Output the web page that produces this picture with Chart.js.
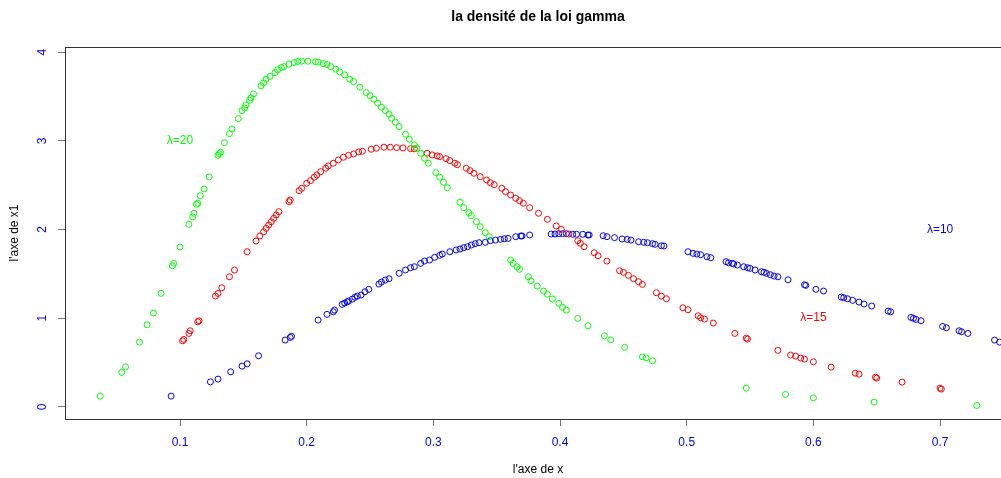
<!DOCTYPE html>
<html>
<head>
<meta charset="utf-8">
<script src="https://cdn.jsdelivr.net/npm/chart.js@4/dist/chart.umd.min.js"></script>
<style>
html, body { margin: 0; padding: 0; background: #ffffff; overflow: hidden; }
#wrap { position: relative; width: 1030px; height: 478px; }
</style>
</head>
<body>
<div id="wrap"><canvas id="chart"></canvas></div>
<script>
// la densité de la loi gamma
const greenX = [0.037, 0.054, 0.057, 0.068, 0.074, 0.079, 0.085, 0.094, 0.095, 0.100, 0.107, 0.110, 0.111, 0.113, 0.114,
    0.116, 0.119, 0.123, 0.130, 0.131, 0.132, 0.135, 0.139, 0.141, 0.146, 0.149, 0.151, 0.152, 0.155, 0.156, 0.158,
    0.164, 0.166, 0.168, 0.171, 0.175, 0.177, 0.180, 0.182, 0.186, 0.190, 0.193, 0.196, 0.201, 0.207, 0.209, 0.213,
    0.216, 0.219, 0.223, 0.226, 0.230, 0.234, 0.237, 0.242, 0.247, 0.250, 0.253, 0.256, 0.259, 0.262, 0.265, 0.267,
    0.270, 0.273, 0.278, 0.281, 0.285, 0.287, 0.290, 0.293, 0.296, 0.302, 0.305, 0.308, 0.311, 0.321, 0.324, 0.328,
    0.330, 0.334, 0.337, 0.341, 0.344, 0.361, 0.363, 0.366, 0.368, 0.375, 0.377, 0.382, 0.387, 0.390, 0.394, 0.399,
    0.402, 0.405, 0.414, 0.422, 0.435, 0.440, 0.451, 0.465, 0.468, 0.473, 0.547, 0.578, 0.600, 0.648, 0.729];
const greenY = [0.121, 0.388, 0.451, 0.730, 0.926, 1.058, 1.280, 1.591, 1.618, 1.802, 2.058, 2.144, 2.183, 2.284, 2.295,
    2.381, 2.457, 2.593, 2.837, 2.855, 2.871, 2.980, 3.081, 3.134, 3.251, 3.341, 3.371, 3.405, 3.458, 3.484, 3.529,
    3.620, 3.654, 3.695, 3.725, 3.770, 3.800, 3.826, 3.837, 3.865, 3.883, 3.894, 3.898, 3.898, 3.891, 3.887, 3.871,
    3.860, 3.837, 3.808, 3.778, 3.744, 3.695, 3.668, 3.605, 3.544, 3.510, 3.469, 3.424, 3.379, 3.341, 3.300, 3.255,
    3.210, 3.160, 3.074, 3.018, 2.954, 2.916, 2.860, 2.804, 2.747, 2.641, 2.589, 2.533, 2.472, 2.307, 2.246, 2.190,
    2.156, 2.088, 2.032, 1.964, 1.919, 1.656, 1.618, 1.580, 1.551, 1.467, 1.422, 1.362, 1.306, 1.269, 1.216, 1.167,
    1.122, 1.091, 0.997, 0.914, 0.801, 0.756, 0.670, 0.564, 0.553, 0.519, 0.211, 0.140, 0.102, 0.053, 0.016];

const redX = [0.102, 0.103, 0.107, 0.108, 0.114, 0.115, 0.128, 0.130, 0.133, 0.139, 0.143, 0.153, 0.160, 0.163, 0.166,
    0.168, 0.170, 0.172, 0.174, 0.176, 0.178, 0.186, 0.187, 0.194, 0.196, 0.200, 0.203, 0.206, 0.208, 0.211, 0.215,
    0.217, 0.221, 0.225, 0.229, 0.233, 0.237, 0.241, 0.244, 0.251, 0.255, 0.261, 0.266, 0.271, 0.276, 0.282, 0.285,
    0.295, 0.299, 0.303, 0.305, 0.310, 0.313, 0.317, 0.319, 0.326, 0.329, 0.332, 0.337, 0.342, 0.345, 0.348, 0.354,
    0.357, 0.361, 0.365, 0.368, 0.371, 0.376, 0.383, 0.390, 0.397, 0.401, 0.407, 0.414, 0.416, 0.419, 0.427, 0.430,
    0.437, 0.447, 0.450, 0.454, 0.458, 0.462, 0.465, 0.476, 0.480, 0.484, 0.497, 0.501, 0.509, 0.511, 0.514, 0.521,
    0.538, 0.547, 0.548, 0.572, 0.582, 0.586, 0.590, 0.593, 0.600, 0.614, 0.633, 0.636, 0.649, 0.650, 0.670, 0.700,
    0.701];
const redY = [0.745, 0.760, 0.828, 0.858, 0.959, 0.970, 1.249, 1.279, 1.343, 1.467, 1.543, 1.749, 1.870, 1.927, 1.975,
    2.013, 2.051, 2.088, 2.126, 2.164, 2.201, 2.314, 2.333, 2.438, 2.465, 2.521, 2.551, 2.589, 2.615, 2.652, 2.691,
    2.717, 2.747, 2.784, 2.815, 2.837, 2.852, 2.875, 2.882, 2.905, 2.916, 2.928, 2.928, 2.923, 2.920, 2.912, 2.909,
    2.860, 2.841, 2.830, 2.822, 2.799, 2.777, 2.747, 2.731, 2.690, 2.664, 2.634, 2.596, 2.559, 2.528, 2.506, 2.465,
    2.427, 2.389, 2.352, 2.325, 2.296, 2.246, 2.183, 2.115, 2.040, 2.002, 1.949, 1.874, 1.844, 1.806, 1.738, 1.704,
    1.644, 1.535, 1.517, 1.483, 1.445, 1.411, 1.381, 1.287, 1.249, 1.219, 1.117, 1.095, 1.027, 1.005, 0.990, 0.945,
    0.828, 0.775, 0.764, 0.637, 0.584, 0.572, 0.550, 0.538, 0.508, 0.448, 0.380, 0.369, 0.335, 0.324, 0.279, 0.211,
    0.200];

const blueX = [0.093, 0.124, 0.130, 0.140, 0.149, 0.153, 0.162, 0.183, 0.187, 0.188, 0.209, 0.216, 0.221, 0.222, 0.228,
    0.230, 0.232, 0.233, 0.236, 0.238, 0.240, 0.243, 0.246, 0.249, 0.257, 0.259, 0.262, 0.265, 0.273, 0.278, 0.282,
    0.285, 0.290, 0.293, 0.297, 0.301, 0.305, 0.307, 0.313, 0.318, 0.321, 0.324, 0.327, 0.330, 0.333, 0.336, 0.341,
    0.345, 0.349, 0.353, 0.356, 0.359, 0.365, 0.369, 0.370, 0.376, 0.393, 0.396, 0.399, 0.402, 0.405, 0.410, 0.413,
    0.418, 0.422, 0.423, 0.434, 0.437, 0.443, 0.449, 0.453, 0.456, 0.462, 0.466, 0.469, 0.473, 0.475, 0.480, 0.482,
    0.501, 0.505, 0.508, 0.511, 0.516, 0.519, 0.531, 0.533, 0.536, 0.537, 0.540, 0.545, 0.548, 0.550, 0.554, 0.559,
    0.561, 0.563, 0.566, 0.569, 0.572, 0.580, 0.593, 0.594, 0.602, 0.608, 0.622, 0.624, 0.627, 0.631, 0.636, 0.640,
    0.646, 0.659, 0.661, 0.677, 0.679, 0.681, 0.685, 0.702, 0.705, 0.715, 0.717, 0.722, 0.743, 0.747];
const blueY = [0.121, 0.282, 0.313, 0.395, 0.459, 0.485, 0.576, 0.753, 0.783, 0.795, 0.979, 1.043, 1.072, 1.091, 1.156,
    1.170, 1.185, 1.193, 1.214, 1.235, 1.249, 1.261, 1.298, 1.325, 1.385, 1.407, 1.430, 1.445, 1.506, 1.543, 1.569,
    1.580, 1.618, 1.644, 1.656, 1.686, 1.709, 1.723, 1.749, 1.769, 1.780, 1.795, 1.806, 1.825, 1.840, 1.851, 1.855,
    1.874, 1.881, 1.889, 1.896, 1.900, 1.919, 1.927, 1.927, 1.938, 1.949, 1.949, 1.953, 1.953, 1.953, 1.946, 1.946,
    1.946, 1.938, 1.938, 1.930, 1.919, 1.908, 1.893, 1.889, 1.881, 1.862, 1.855, 1.851, 1.840, 1.833, 1.817, 1.814,
    1.749, 1.731, 1.723, 1.716, 1.693, 1.682, 1.637, 1.625, 1.618, 1.611, 1.599, 1.580, 1.569, 1.562, 1.543, 1.524,
    1.517, 1.505, 1.490, 1.475, 1.467, 1.433, 1.377, 1.370, 1.325, 1.306, 1.238, 1.230, 1.219, 1.201, 1.182, 1.159,
    1.137, 1.080, 1.072, 1.009, 0.998, 0.986, 0.971, 0.907, 0.892, 0.858, 0.847, 0.828, 0.753, 0.730];

const xTicks      = [0.1, 0.2, 0.3, 0.4, 0.5, 0.6, 0.7];
const xTickLabels = ['0.1', '0.2', '0.3', '0.4', '0.5', '0.6', '0.7'];
const yTicks      = [0, 1, 2, 3, 4];
const yTickLabels = ['0', '1', '2', '3', '4'];

// text(x, y, ...) labels placed in data coordinates
const labelText   = ['λ=20', 'λ=15', 'λ=10'];
const labelX      = [0.1, 0.6, 0.7];
const labelY      = [3, 1, 2];
const labelColors = ['#00ff00', '#ff0000', '#0000ff'];

const titleText  = 'la densité de la loi gamma';
const xTitleText = "l'axe de x";
const yTitleText = "l'axe de x1";

const toPoints = (xs, ys) => xs.map((x, i) => ({x: x, y: ys[i]}));

const makeSet = (xs, ys, color) => ({
    data: toPoints(xs, ys),
    showLine: false,
    pointStyle: 'circle',
    pointRadius: 3,
    pointBorderWidth: 1,
    borderColor: color,
    pointBackgroundColor: 'rgba(0,0,0,0)',
    pointBorderColor: color
});

const rFrame = {
    id: 'rFrame',
    afterDraw (chart) {
        const ctx  = chart.ctx;
        const area = chart.chartArea;
        const sx   = chart.scales.x;
        const sy   = chart.scales.y;
        const font = '"Liberation Sans", Arial, sans-serif';

        ctx.save();
        ctx.strokeStyle = '#333333';
        ctx.lineWidth   = 1;
        ctx.strokeRect(area.left + 0.5, area.top + 0.5, area.right - area.left, area.bottom - area.top);

        ctx.textAlign    = 'center';
        ctx.textBaseline = 'middle';

        const mid = (area.left + area.right) / 2;
        ctx.fillStyle = '#000000';
        ctx.font      = 'bold 14px ' + font;
        ctx.fillText(titleText, mid, 17);

        ctx.font = '12px ' + font;
        ctx.fillText(xTitleText, mid, 470);

        ctx.save();
        ctx.translate(15, (area.top + area.bottom) / 2);
        ctx.rotate(-Math.PI / 2);
        ctx.fillText(yTitleText, 0, 0);
        ctx.restore();

        for (let i = 0; i < labelText.length; ++i) {
            ctx.fillStyle = labelColors[i];
            ctx.fillText(labelText[i], sx.getPixelForValue(labelX[i]), sy.getPixelForValue(labelY[i]));
        }
        ctx.restore();
    }
};

new Chart(document.getElementById('chart').getContext('2d'), {
    type: 'scatter',
    data: {
        datasets: [
            makeSet(greenX, greenY, '#00ff00'),
            makeSet(redX, redY, '#ff0000'),
            makeSet(blueX, blueY, '#0000ff')
        ]
    },
    options: {
        responsive: true,
        maintainAspectRatio: false,
        animation: false,
        devicePixelRatio: 1,
        layout: { padding: { top: 47, right: 19, left: 0, bottom: 0 } },
        plugins: {
            legend: { display: false },
            tooltip: { enabled: false },
            title: { display: false }
        },
        scales: {
            x: {
                type: 'linear',
                min: 0.0092,
                max: 0.756,
                afterBuildTicks: (scale) => { scale.ticks = xTicks.map((v) => ({value: v})); },
                afterFit: (scale) => { scale.height = 59; },
                border: { display: false },
                grid: { drawOnChartArea: false, drawTicks: true, tickLength: 7, color: '#777777' },
                ticks: {
                    color: '#0000ff',
                    padding: 9,
                    maxRotation: 0,
                    font: { family: '"Liberation Sans", Arial, sans-serif', size: 12 },
                    callback: (v, i) => xTickLabels[i]
                }
            },
            y: {
                type: 'linear',
                min: -0.137,
                max: 4.058,
                afterBuildTicks: (scale) => { scale.ticks = yTicks.map((v) => ({value: v})); },
                afterFit: (scale) => { scale.width = 65; },
                border: { display: false },
                grid: { drawOnChartArea: false, drawTicks: true, tickLength: 7, color: '#777777' },
                ticks: {
                    color: '#0000ff',
                    padding: 12,
                    minRotation: 90,
                    maxRotation: 90,
                    crossAlign: 'center',
                    font: { family: '"Liberation Sans", Arial, sans-serif', size: 12 },
                    callback: (v, i) => yTickLabels[i]
                }
            }
        }
    },
    plugins: [rFrame]
});
</script>
</body>
</html>
